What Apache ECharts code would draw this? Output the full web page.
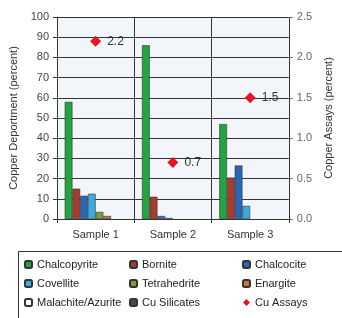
<!DOCTYPE html>
<html>
<head>
<meta charset="utf-8">
<script src="https://cdn.jsdelivr.net/npm/echarts@6/dist/echarts.min.js"></script>
<style>
  html, body { margin: 0; padding: 0; background: #fff; }
  #main { width: 342px; height: 318px; }
</style>
</head>
<body>
<div id="main"></div>
<script>
// 数据
var samples = ['Sample 1', 'Sample 2', 'Sample 3'];
var chalcopyrite = [58, 86, 47];
var bornite = [15, 11, 20.5];
var chalcocite = [11.5, 1.5, 26.5];
var covellite = [12.5, 0.5, 6.5];
var tetrahedrite = [3.5, 0, 0];
var enargite = [1.5, 0, 0];
var malachite = [0, 0, 0];
var cuSilicates = [0, 0, 0];
var cuAssays = [2.2, 0.7, 1.5];

var font = 'Liberation Sans, Arial, sans-serif';

function bar(name, data, color) {
    return {
        name: name,
        type: 'bar',
        // 零值不画边框
        data: data.map(function (v) {
            return v === 0 ? { value: 0, itemStyle: { borderWidth: 0 } } : v;
        }),
        barGap: 0,
        barCategoryGap: '20%',
        itemStyle: { color: color, borderColor: '#333', borderWidth: 0.6 }
    };
}

function legendCol(left, names) {
    return {
        orient: 'vertical', left: left, top: 254, itemGap: 8,
        itemWidth: 7, itemHeight: 7,
        textStyle: { fontSize: 11, color: '#222' },
        data: names
    };
}

var chart = echarts.init(document.getElementById('main'));
var option = {
    animation: false,
    textStyle: { fontFamily: font },
    grid: {
        left: 53, right: 49, top: 17, bottom: 99,
        show: true, backgroundColor: '#f2f6fb', borderWidth: 0
    },
    legend: [
        legendCol(19, ['Chalcopyrite', 'Covellite', 'Malachite/Azurite']),
        legendCol(124, ['Bornite', 'Tetrahedrite', 'Cu Silicates']),
        legendCol(237, ['Chalcocite', 'Enargite', { name: 'Cu Assays', icon: 'diamond' }])
    ],
    graphic: [{
        type: 'rect',
        shape: { x: 18.5, y: 251.5, width: 330, height: 70 },
        style: { fill: 'none', stroke: '#333', lineWidth: 1 }
    }],
    xAxis: {
        type: 'category',
        data: samples,
        axisLine: { lineStyle: { color: '#333' } },
        axisTick: { show: true, length: 4, lineStyle: { color: '#333' } },
        axisLabel: { fontSize: 11, color: '#333', margin: 10 },
        splitLine: { show: true, lineStyle: { color: '#333', width: 1 } }
    },
    yAxis: [
        {
            type: 'value', min: 0, max: 100, interval: 10,
            name: 'Copper Deportment (percent)',
            nameLocation: 'middle', nameGap: 38,
            nameTextStyle: { fontSize: 11, color: '#333' },
            axisLine: { show: true, lineStyle: { color: '#333' } },
            axisTick: { show: true, length: 4, lineStyle: { color: '#333' } },
            axisLabel: { fontSize: 11, color: '#444', margin: 8 },
            splitLine: { lineStyle: { color: '#333', width: 1 } }
        },
        {
            type: 'value', min: 0, max: 2.5, interval: 0.5,
            name: 'Copper Assays (percent)',
            nameLocation: 'middle', nameGap: 34,
            nameTextStyle: { fontSize: 11, color: '#333' },
            axisLine: { show: false },
            axisTick: { show: true, length: 4, lineStyle: { color: '#666' } },
            axisLabel: { fontSize: 11, color: '#666', margin: 8,
                formatter: function (v) { return v.toFixed(1); } },
            splitLine: { show: false }
        }
    ],
    series: [
        bar('Chalcopyrite', chalcopyrite, '#22a540'),
        bar('Bornite', bornite, '#a83a30'),
        bar('Chalcocite', chalcocite, '#2a66b4'),
        bar('Covellite', covellite, '#3aaae0'),
        bar('Tetrahedrite', tetrahedrite, '#7a9e3e'),
        bar('Enargite', enargite, '#d4742c'),
        bar('Malachite/Azurite', malachite, '#ffffff'),
        bar('Cu Silicates', cuSilicates, '#4a4a4a'),
        {
            name: 'Cu Assays',
            type: 'line',
            yAxisIndex: 1,
            data: cuAssays,
            symbol: 'diamond',
            symbolSize: 11,
            lineStyle: { width: 0, opacity: 0 },
            itemStyle: { color: '#e8141c' },
            label: { show: true, position: 'right', distance: 6, fontSize: 12, color: '#333' },
            z: 5
        }
    ]
};
chart.setOption(option);
</script>
</body>
</html>
